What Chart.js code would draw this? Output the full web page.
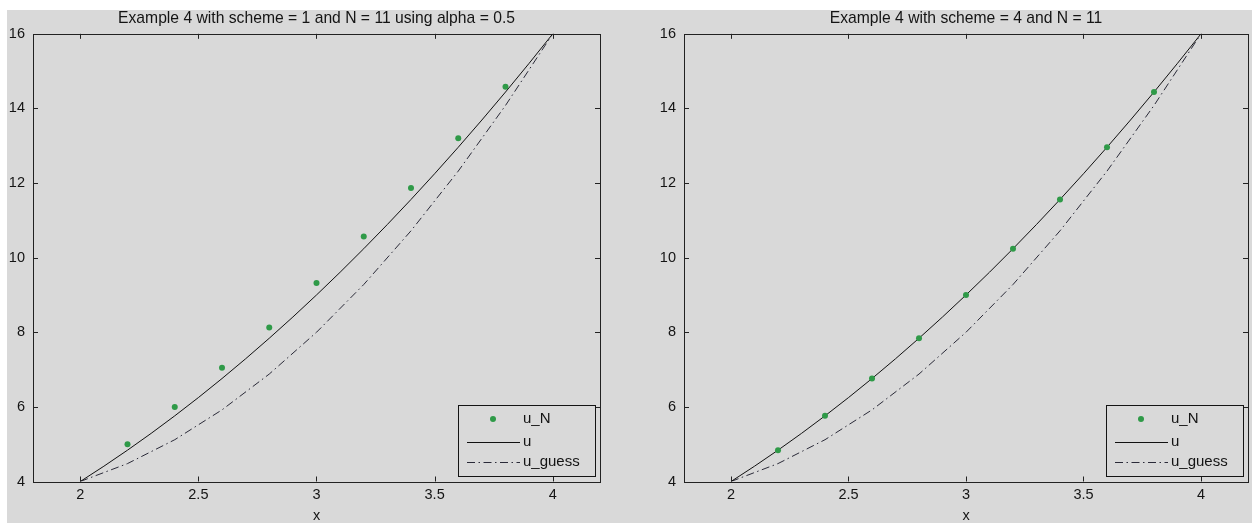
<!DOCTYPE html>
<html><head><meta charset="utf-8">
<script src="https://cdn.jsdelivr.net/npm/chart.js@4.4.1/dist/chart.umd.min.js"></script>
<style>
html,body{margin:0;padding:0;background:#fff;width:1252px;height:523px;overflow:hidden}
#bg{position:absolute;left:7px;top:10px;right:0;bottom:0;background:#d9d9d9}
.c{position:absolute;top:0;width:626px;height:523px}
canvas{display:block}
</style></head><body>
<div id="bg"></div>
<div class="c" style="left:0"><canvas id="c1" width="626" height="523"></canvas></div>
<div class="c" style="left:626px"><canvas id="c2" width="626" height="523"></canvas></div>
<script>
// ---- data ----
const xFine = [2.0,2.1,2.2,2.3,2.4,2.5,2.6,2.7,2.8,2.9,3.0,3.1,3.2,3.3,3.4,3.5,3.6,3.7,3.8,3.9,4.0];
const uExact = [4.00,4.41,4.84,5.29,5.76,6.25,6.76,7.29,7.84,8.41,9.00,9.61,10.24,10.89,11.56,12.25,12.96,13.69,14.44,15.21,16.00];
const xGrid = [2.0,2.2,2.4,2.6,2.8,3.0,3.2,3.4,3.6,3.8,4.0];
const uGuess = [4.00,4.48,5.12,5.92,6.88,8.00,9.28,10.72,12.32,14.08,16.00];
const xInterior = [2.2,2.4,2.6,2.8,3.0,3.2,3.4,3.6,3.8];
const uN_scheme1 = [5.00,6.00,7.05,8.13,9.32,10.57,11.87,13.20,14.58];
const uN_scheme4 = [4.84,5.76,6.76,7.84,9.00,10.24,11.56,12.96,14.44];
const xTicks = [2,2.5,3,3.5,4];
const yTicks = [4,6,8,10,12,14,16];
const seriesLabels = ['u_N','u','u_guess'];
const titleLeft = 'Example 4 with scheme = 1 and N = 11 using alpha = 0.5';
const titleRight = 'Example 4 with scheme = 4 and N = 11';
const xLabel = 'x';

const FONT = 'Liberation Sans, Arial, Helvetica, sans-serif';
const BG = '#d9d9d9';
const INK = '#141414';

const pts = (xs, ys) => xs.map((x, i) => ({x, y: ys[i]}));

const frameTicks = {
  id: 'frameTicks',
  afterDraw(chart) {
    const {ctx, chartArea: a, scales: {x, y}} = chart;
    ctx.save();
    ctx.strokeStyle = '#222';
    ctx.lineWidth = 1;
    ctx.strokeRect(Math.round(a.left) + 0.5, Math.round(a.top) + 0.5,
                   Math.round(a.right - a.left), Math.round(a.bottom - a.top));
    const L = 5;
    ctx.beginPath();
    x.ticks.forEach(t => {
      const px = Math.round(x.getPixelForValue(t.value)) + 0.5;
      ctx.moveTo(px, a.bottom); ctx.lineTo(px, a.bottom - L);
      ctx.moveTo(px, a.top); ctx.lineTo(px, a.top + L);
    });
    y.ticks.forEach(t => {
      const py = Math.round(y.getPixelForValue(t.value)) + 0.5;
      ctx.moveTo(a.left, py); ctx.lineTo(a.left + L, py);
      ctx.moveTo(a.right, py); ctx.lineTo(a.right - L, py);
    });
    ctx.stroke();

    // legend box (MATLAB style, inside lower right)
    const w = 137, h = 71;
    const x0 = Math.round(a.right - 5 - w), y0 = Math.round(a.bottom - 5.5 - h);
    ctx.fillStyle = BG;
    ctx.fillRect(x0, y0, w, h);
    ctx.strokeStyle = INK;
    ctx.strokeRect(x0 + 0.5, y0 + 0.5, w, h);
    const rows = [14, 37, 57];
    ctx.font = '15px ' + FONT;
    ctx.textBaseline = 'middle';
    ctx.textAlign = 'left';
    chart.data.datasets.forEach((ds, i) => {
      const ry = y0 + rows[i];
      if (ds.showLine === false) {
        ctx.fillStyle = ds.pointBackgroundColor;
        ctx.beginPath(); ctx.arc(x0 + 35, ry, ds.pointRadius, 0, Math.PI * 2); ctx.fill();
      } else {
        ctx.strokeStyle = ds.borderColor;
        ctx.lineWidth = ds.borderWidth;
        ctx.setLineDash(ds.borderDash || []);
        ctx.beginPath(); ctx.moveTo(x0 + 9, ry + 0.5); ctx.lineTo(x0 + 62, ry + 0.5); ctx.stroke();
        ctx.setLineDash([]);
      }
      ctx.fillStyle = INK;
      ctx.fillText(ds.label, x0 + 65, ry);
    });
    ctx.restore();
  }
};

function makeChart(id, title, uN, padL, padR) {
  return new Chart(document.getElementById(id), {
    type: 'scatter',
    data: {
      datasets: [
        {label: seriesLabels[0], data: pts(xInterior, uN), showLine: false,
         pointRadius: 3, pointBackgroundColor: '#2f9a48', pointBorderWidth: 0, pointBorderColor: '#2f9a48'},
        {label: seriesLabels[1], data: pts(xFine, uExact), showLine: true, borderColor: '#111',
         borderWidth: 1, pointRadius: 0, tension: 0},
        {label: seriesLabels[2], data: pts(xGrid, uGuess), showLine: true, borderColor: '#2a2a38',
         borderWidth: 1, borderDash: [8, 3.5, 1.5, 3.5], pointRadius: 0, tension: 0}
      ]
    },
    options: {
      responsive: false, animation: false, devicePixelRatio: 1,
      layout: {padding: {left: padL, right: padR, top: 0, bottom: 0}},
      plugins: {
        legend: {display: false}, tooltip: {enabled: false},
        title: {display: true, fullSize: false, text: title, color: INK,
                font: {family: FONT, size: 15.7, weight: 'normal', lineHeight: 1.2},
                padding: {top: 9, bottom: 6}}
      },
      scales: {
        x: {type: 'linear', min: 1.8, max: 4.2,
            afterBuildTicks: s => { s.ticks = xTicks.map(v => ({value: v})); },
            afterFit: s => { s.height = 41.5; },
            grid: {display: false, drawTicks: false}, border: {display: false},
            ticks: {color: INK, font: {family: FONT, size: 14.5}, padding: 5, maxRotation: 0, autoSkip: false,
                    callback: v => String(v)},
            title: {display: true, text: xLabel, color: INK, font: {family: FONT, size: 14.5, lineHeight: 1}, padding: 0}},
        y: {type: 'linear', min: 4, max: 16,
            afterBuildTicks: s => { s.ticks = yTicks.map(v => ({value: v})); },
            afterFit: s => { s.width = 33; },
            grid: {display: false, drawTicks: false}, border: {display: false},
            ticks: {color: INK, font: {family: FONT, size: 14.5}, padding: 8, autoSkip: false,
                    callback: v => String(v)}}
      }
    },
    plugins: [frameTicks]
  });
}

makeChart('c1', titleLeft, uN_scheme1, 0, 26);
makeChart('c2', titleRight, uN_scheme4, 25, 2);
</script>
</body></html>
